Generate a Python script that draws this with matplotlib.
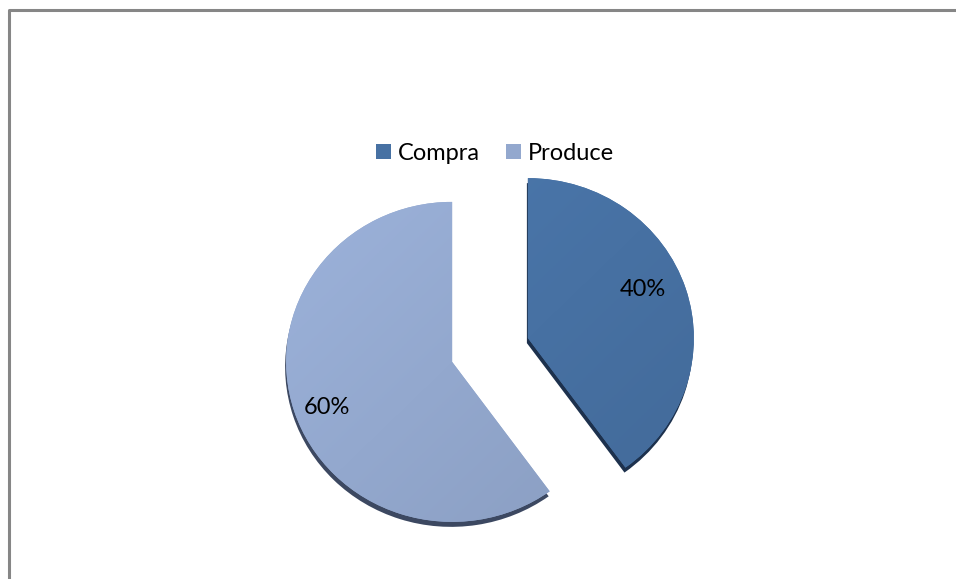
import matplotlib
matplotlib.use("Agg")
import matplotlib.pyplot as plt
import numpy as np
from matplotlib.colors import to_rgb
from matplotlib.lines import Line2D
from matplotlib.patches import Rectangle

plt.rcParams["font.family"] = ["Lato", "DejaVu Sans"]

categories = ["Compra", "Produce"]
shares = [40, 60]
colors = ["#4771A3", "#93A8CE"]
edge_colors = ["#1D314D", "#3C4861"]

W, H = 956, 579
fig = plt.figure(figsize=(W / 100, H / 100), dpi=100)
fig.patch.set_facecolor("white")

# pie axes: 1 unit = 166 px across, 160 px tall (slight tilt)
cx, cy = 490, 229          # pixels from bottom-left
rx, ry = 166, 160
half = 300
ax = fig.add_axes([(cx - half) / W, (cy - half) / H, 2 * half / W, 2 * half / H])

explode = [0.24, 0.24]

# darker copy underneath gives the bevelled rim
ax.pie(shares, colors=edge_colors, startangle=90, counterclock=False,
       explode=explode, center=(-1 / rx, -5 / ry),
       wedgeprops=dict(linewidth=0))

wedges, _, autotexts = ax.pie(
    shares, colors=colors, startangle=90, counterclock=False,
    explode=explode, autopct="%1.0f%%", pctdistance=0.78,
    wedgeprops=dict(linewidth=0),
    textprops=dict(fontsize=17, color="black"))

ax.set_aspect("auto")

# soft diagonal shading on each slice, lighter towards the upper left
gx, gy = np.meshgrid(np.linspace(0, 1, 200), np.linspace(0, 1, 200))
t = np.clip((gx + gy) / 2, 0, 1)[..., None]
for wdg, col in zip(wedges, colors):
    base = np.array(to_rgb(col))
    light = np.clip(base * 1.06, 0, 1)
    dark = base * 0.94
    img = light * (1 - t) + dark * t
    x0, y0 = wdg.center
    im = ax.imshow(img, extent=(x0 - 1, x0 + 1, y0 - 1, y0 + 1),
                   origin="upper", aspect="auto", zorder=wdg.get_zorder() + 0.1)
    im.set_clip_path(wdg)

for txt in autotexts:
    txt.set_zorder(5)
autotexts[0].set_position(((643 - cx) / rx, (H - 289 - cy) / ry))
autotexts[1].set_position(((327 - cx) / rx, (H - 407 - cy) / ry))
ax.set_xlim(-half / rx, half / rx)
ax.set_ylim(-half / ry, half / ry)

# legend
handles = [Rectangle((0, 0), 1, 1, facecolor=c, edgecolor="none") for c in colors]
fig.legend(handles, categories, loc="center", ncol=2,
           bbox_to_anchor=(495 / W, 1 - 153 / H), frameon=False,
           fontsize=17, handlelength=0.62, handleheight=0.62,
           handletextpad=0.3, columnspacing=1.1, borderpad=0)

# chart area border (only top and left edges fall inside the image)
fig.add_artist(Line2D([9 / W, 9 / W, 1.01], [-0.01, 1 - 10 / H, 1 - 10 / H],
                      transform=fig.transFigure, color="#868686", linewidth=2.2))

fig.savefig("out.png", dpi=100, facecolor="white")
